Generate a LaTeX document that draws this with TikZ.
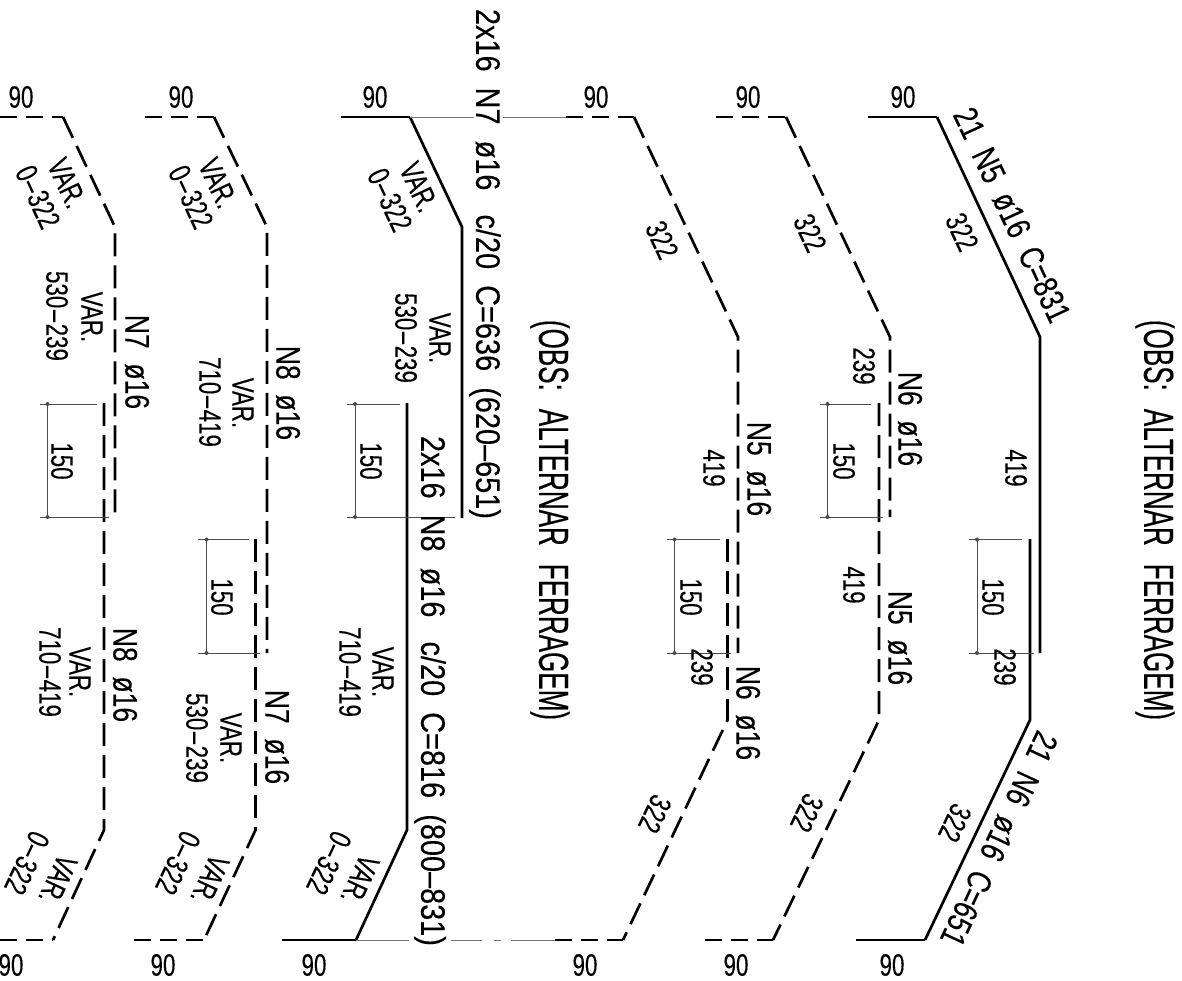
\documentclass[tikz,border=0pt]{standalone}
\usepackage{fontspec}
\setmainfont[FakeStretch=0.72,FakeBold=0.2]{Liberation Sans}
\newfontfamily\tagfont[FakeStretch=0.78,FakeBold=0.2]{Liberation Sans}
\newfontfamily\longfont[FakeStretch=0.85,FakeBold=0.2]{Liberation Sans}
\newfontfamily\notefont[FakeStretch=0.62,FakeBold=0.3]{Liberation Sans}
\newcommand{\rng}{\kern1.5pt–\kern1.5pt}

\tikzset{
    bar/.style={line width=2.7pt, line join=miter},
    bardash/.style={bar, dash pattern=on 23pt off 9pt},
    barend/.style={bar, dash pattern=on 17pt off 9pt},
    dimline/.style={line width=0.8pt, black!70},
    guide/.style={line width=0.8pt, black!55},
    dimdot/.style={circle, fill=black!70, inner sep=0pt, minimum size=4pt},
    small/.style={inner sep=0pt, font=\fontsize{31}{31}\selectfont},
    tag/.style={inner sep=0pt, font=\tagfont\fontsize{34}{34}\selectfont},
    longtag/.style={inner sep=0pt, font=\longfont\fontsize{34}{34}\selectfont},
    note/.style={inner sep=0pt, font=\notefont\fontsize{42}{42}\selectfont},
}

\begin{document}
\begin{tikzpicture}[x=1pt, y=-1pt]
    \useasboundingbox (0,0) rectangle (1182,980);

    % End hooks, upper row
    \foreach \id/\x/\xa/\xb in {a/21/0/63, b/181/145/214, d/596/566/634, e/748/716/786} {
        \node[small] (top\id) at (\x,97) {90};
        \draw[barend] (\xa,117) -- (\xb,117);
    }
    \node[small] (topc) at (375,97) {90};
    \node[small] (topf) at (903,97) {90};
    \draw[bar] (341,117) -- (410,117);
    \draw[bar] (868,117) -- (937,117);

    % End hooks, lower row
    \foreach \id/\x/\xa/\xb in {a/11/0/53, b/163/134/204, d/585/555/623, e/736/705/773} {
        \node[small] (bot\id) at (\x,965) {90};
        \draw[barend] (\xa,940) -- (\xb,940);
    }
    \node[small] (botc) at (314,965) {90};
    \node[small] (botf) at (892,965) {90};
    \draw[bar] (282,940) -- (356,940);
    \draw[bar] (856,940) -- (925,940);

    % Dashed bars
    \draw[bardash] (63,117) -- (115,227) -- (115,518);
    \draw[bardash] (104,403) -- (104,830) -- (53,940);
    \draw[bardash] (214,117) -- (267,227) -- (267,653);
    \draw[bardash] (255.5,539) -- (255.5,830) -- (204,940);
    \draw[bardash] (634,117) -- (738,337) -- (738,653);
    \draw[bardash] (727.5,539) -- (727.5,720) -- (623,940);
    \draw[bardash] (786,117) -- (890,337) -- (890,517);
    \draw[bardash] (879,403) -- (879,720) -- (773,940);

    % Solid bars
    \draw[bar] (410,117) -- (462,227) -- (462,518);
    \draw[bar] (407,403) -- (407,830) -- (356,940);
    \draw[bar] (937,117) -- (1040,337) -- (1040,653);
    \draw[bar] (1030,539) -- (1030,720) -- (925,940);

    % Thin lines between the bars
    \draw[guide] (410,117) -- (474,117) (484,117) -- (488,117) (503,117) -- (566,117);
    \draw[guide] (356,940) -- (409,940) (451,940) -- (482,940) (494,940) -- (501,940) (511,940) -- (555,940);

    % Lap dimensions
    \foreach \id/\xl/\xd/\xt/\xr/\yt/\yb/\xn/\yn in {
        a/40/47.5/97/109/404/517/62/461,
        b/198/206.5/249/259.5/539.5/653/222/597,
        c/347/355/400/455/404/517/371/461,
        d/667/674.5/720/730.5/539.5/653/691/597,
        e/820/827.5/871/883/404/517/844/461,
        f/969/977/1022/1033.5/539.5/653/993/597} {
        \draw[dimline] (\xl,\yt) -- (\xt,\yt);
        \draw[dimline] (\xl,\yb) -- (\xr,\yb);
        \draw[dimline] (\xd,\yt) -- (\xd,\yb);
        \node[dimdot] (dota\id) at (\xd,\yt) {};
        \node[dimdot] (dotb\id) at (\xd,\yb) {};
        \node[small, rotate=-90] (lap\id) at (\xn,\yn) {150};
    }

    % Sloped labels, upper row
    \foreach \id/\x/\y/\txt in {
        a/67/183/VAR., b/218/183/VAR., c/419/187/VAR.,
        g/38/197/0\rng322, h/191/197/0\rng322, i/390/200/0\rng322,
        d/662/240/322, e/810/233/322, f/962/232/322} {
        \node[small, rotate=-65] (up\id) at (\x,\y) {\txt};
    }

    % Sloped labels, lower row
    \foreach \id/\x/\y/\txt in {
        a/58/880/VAR., b/210/880/VAR., c/360/880/VAR.,
        g/27/863/0\rng322, h/178/863/0\rng322, i/329/863/0\rng322,
        d/655/814/322, e/807/813/322, f/955/823/322} {
        \node[small, rotate=-115] (lo\id) at (\x,\y) {\txt};
    }

    % Lengths along the straight parts
    \foreach \id/\x/\y/\txt in {
        a/92/317/VAR., b/57/316/530\rng239, c/80/672/VAR., d/50/672/710\rng419,
        e/243/403/VAR., f/210/402/710\rng419, g/231/738/VAR., h/197/738/530\rng239,
        i/440/338/VAR., j/406/338/530\rng239, k/383/672/VAR., l/350/672/710\rng419,
        m/714/468/419, n/702/667/239, o/864/366/239, p/854/585/419,
        q/1016/468/419, r/1005/667/239} {
        \node[small, rotate=-90] (len\id) at (\x,\y) {\txt};
    }

    % Bar marks
    \foreach \id/\x/\y/\txt in {
        a/137/362/N7~~ø16, b/125/675/N8~~ø16, c/288/393/N8~~ø16, d/277/737/N7~~ø16,
        e/759/469/N5~~ø16, f/748/713/N6~~ø16, g/910/419/N6~~ø16, h/900/638/N5~~ø16} {
        \node[tag, rotate=-90] (mark\id) at (\x,\y) {\txt};
    }
    \node[longtag, rotate=-90] (markc) at (485,264) {2x16~~N7~~ø16~~~c/20~~C=636~~(620–651)};
    \node[longtag, rotate=-90] (markd) at (430,691) {2x16~~N8~~ø16~~~c/20~~C=816~~(800–831)};
    \node[tag, rotate=-65] (markf) at (1012,215) {21~~N5~~ø16~~C=831};
    \node[tag, rotate=-115] (markg) at (999,839) {21~~N6~~ø16~~C=651};

    % Side notes
    \node[note, rotate=-90] (obsc) at (550,520) {(OBS:\hspace{18pt}ALTERNAR\hspace{18pt}FERRAGEM)};
    \node[note, rotate=-90] (obsf) at (1155,520) {(OBS:\hspace{18pt}ALTERNAR\hspace{18pt}FERRAGEM)};
\end{tikzpicture}
\end{document}
